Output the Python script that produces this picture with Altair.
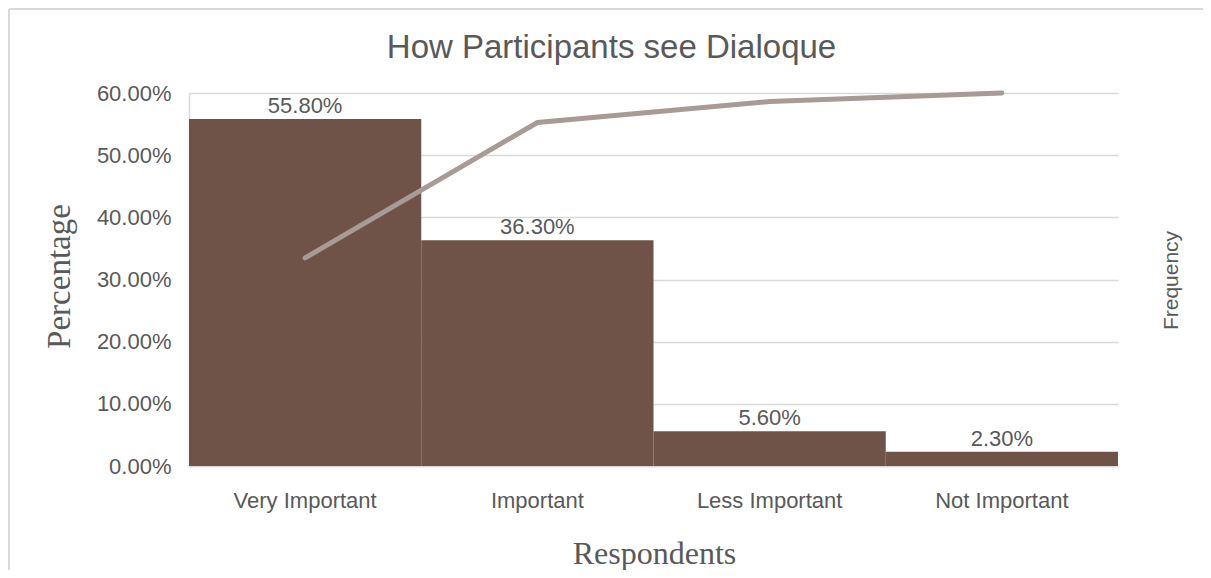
import altair as alt
import pandas as pd

categories = ["Very Important", "Important", "Less Important", "Not Important"]
percentages = [0.558, 0.363, 0.056, 0.023]
cumulative = [0.558, 0.921, 0.977, 1.000]
y_ticks = [0.0, 0.1, 0.2, 0.3, 0.4, 0.5, 0.6]

df = pd.DataFrame({"Respondents": categories, "Percentage": percentages, "Cumulative": cumulative})

GREY = "#595959"
GRID = "#D9D9D9"
SANS = "Liberation Sans"
SERIF = "Liberation Serif"

x_enc = alt.X(
    "Respondents:N",
    sort=categories,
    scale=alt.Scale(paddingInner=0, paddingOuter=0),
    axis=alt.Axis(
        title="Respondents", labelAngle=0, ticks=False, domain=True, domainColor=GRID,
        domainWidth=1.5, labelFont=SANS, labelFontSize=22, labelColor=GREY,
        labelBaseline="alphabetic", labelPadding=41,
        titleFont=SERIF, titleFontSize=32, titleFontWeight="normal", titleColor=GREY,
        titleX=465, titleY=97, titleBaseline="alphabetic", titleAnchor="middle", grid=False,
    ),
)

y_axis = alt.Axis(
    title="Percentage", values=y_ticks, format=".2%", ticks=False, domain=True,
    domainColor=GRID, domainWidth=1.5, grid=True, gridColor=GRID, gridWidth=1.5,
    labelFont=SANS, labelFontSize=22, labelColor=GREY, labelPadding=18,
    titleFont=SERIF, titleFontSize=33, titleFontWeight="normal", titleColor=GREY,
    titleAngle=270, titleX=-120, titleY=183, titleBaseline="alphabetic", titleAnchor="middle",
)
y_enc = alt.Y("Percentage:Q", scale=alt.Scale(domain=[0, 0.6], nice=False), axis=y_axis)

bars = alt.Chart(df).mark_bar(color="#6F5348").encode(x=x_enc, y=y_enc)
labels = alt.Chart(df).mark_text(
    font=SANS, fontSize=22, color=GREY, baseline="alphabetic", dy=-6
).encode(x=alt.X("Respondents:N", sort=categories), y=alt.Y("Percentage:Q"),
         text=alt.Text("Percentage:Q", format=".2%"))

frame_data = alt.Data(values=[{"k": 1}])
frame_v = alt.Chart(frame_data).mark_rule(color=GRID, strokeWidth=2).encode(
    x=alt.value(-180), y=alt.value(-84), y2=alt.value(500))
frame_h = alt.Chart(frame_data).mark_rule(color=GRID, strokeWidth=2).encode(
    x=alt.value(-180), x2=alt.value(1020), y=alt.value(-84), y2=alt.value(-84))

left = alt.layer(frame_v, frame_h, bars, labels)

line = alt.Chart(df).mark_line(color="#A89A95", strokeWidth=5, strokeCap="round", strokeJoin="round").encode(
    x=alt.X("Respondents:N", sort=categories),
    y=alt.Y("Cumulative:Q", scale=alt.Scale(domain=[0, 1], nice=False),
            axis=alt.Axis(orient="right", title="Frequency", labels=False, ticks=False,
                          domain=False, grid=False, titleFont=SANS, titleFontSize=21,
                          titleFontWeight="normal", titleColor=GREY, titleAngle=270,
                          titleX=59, titleY=187, titleBaseline="alphabetic", titleAnchor="middle")),
)

chart = alt.layer(left, line).resolve_scale(y="independent").properties(
    width=929, height=373,
    autosize=alt.AutoSizeParams(type="none"),
    padding={"left": 181, "top": 85, "right": 85, "bottom": 104},
    title=alt.TitleParams(
        "How Participants see Dialoque", font=SANS, fontSize=33, fontWeight="normal",
        color=GREY, anchor="middle", frame="group", dx=-42, baseline="alphabetic", offset=-83,
    ),
).configure_view(stroke=None)

chart.save("out.html", embed_options={"renderer": "svg", "actions": False})
